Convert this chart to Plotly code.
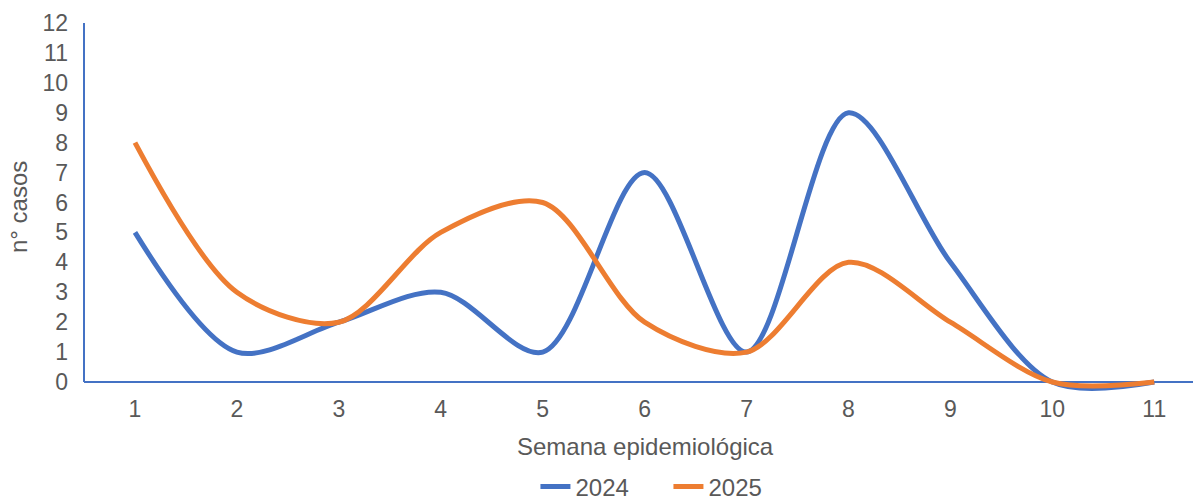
import plotly.graph_objects as go

# Weekly case counts by epidemiological week
semanas = [1, 2, 3, 4, 5, 6, 7, 8, 9, 10, 11]
casos_2024 = [5, 1, 2, 3, 1, 7, 1, 9, 4, 0, 0]
casos_2025 = [8, 3, 2, 5, 6, 2, 1, 4, 2, 0, 0]
y_ticks = list(range(0, 13))

AZUL = "#4472C4"
NARANJA = "#ED7D31"
GRIS = "#595959"
FUENTE = "Liberation Sans, Arial, sans-serif"
SUAVIZADO = 0.9

fig = go.Figure()
fig.add_trace(go.Scatter(
    x=semanas, y=casos_2024, name="2024", mode="lines",
    line=dict(color=AZUL, width=5, shape="spline", smoothing=SUAVIZADO),
))
fig.add_trace(go.Scatter(
    x=semanas, y=casos_2025, name="2025", mode="lines",
    line=dict(color=NARANJA, width=5, shape="spline", smoothing=SUAVIZADO),
))

# value axis line, drawn only from 0 to the top tick
fig.add_shape(type="line", xref="paper", yref="y", x0=0, x1=0,
              y0=0, y1=max(y_ticks), line=dict(color=AZUL, width=2),
              layer="below")

fig.update_layout(
    width=1193, height=500,
    margin=dict(l=84, r=0, t=23, b=109, autoexpand=False),
    paper_bgcolor="white", plot_bgcolor="white",
    font=dict(family=FUENTE, color=GRIS, size=23),
    showlegend=True,
    legend=dict(
        orientation="h", x=0.527, xanchor="center", xref="paper",
        yref="container", y=0.026, yanchor="middle",
        font=dict(size=24, color=GRIS),
        entrywidth=88, entrywidthmode="pixels", tracegroupgap=0,
    ),
    xaxis=dict(
        range=[0.5, 11.38], tickmode="array", tickvals=semanas,
        ticktext=[str(s) for s in semanas],
        showgrid=False, zeroline=False, showline=False,
        ticks="", ticklabelstandoff=2,
        tickfont=dict(size=23, color=GRIS),
    ),
    yaxis=dict(
        range=[-0.3, 12], tickmode="array", tickvals=y_ticks,
        showgrid=False, zeroline=True, zerolinecolor=AZUL, zerolinewidth=2,
        showline=False,
        ticks="", ticklabelstandoff=15,
        tickfont=dict(size=23, color=GRIS),
    ),
    annotations=[
        dict(text="Semana epidemiológica", xref="paper", yref="paper",
             x=0.506, y=-0.152, xanchor="center", yanchor="middle",
             showarrow=False, font=dict(size=24, color=GRIS)),
        dict(text="n° casos", xref="paper", yref="paper",
             x=-0.0595, y=0.5, xanchor="center", yanchor="middle",
             textangle=-90, showarrow=False, font=dict(size=24, color=GRIS)),
    ],
)

fig.write_html("out.html")
